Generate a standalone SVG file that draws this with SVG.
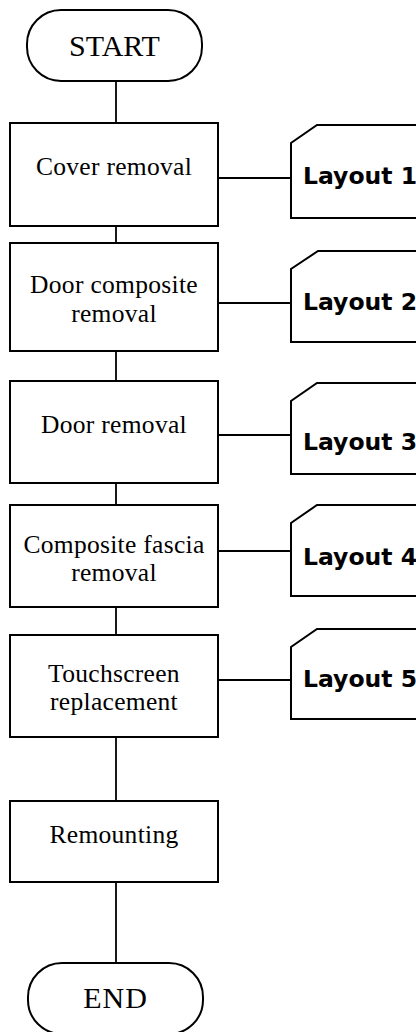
<svg xmlns="http://www.w3.org/2000/svg" width="416" height="1032" viewBox="0 0 416 1032">
<style>
.box{fill:#fff;stroke:#000;stroke-width:2}
.ln{stroke:#000;stroke-width:1.8;fill:none}
.t{font-family:"Liberation Serif",serif;font-size:25.5px;letter-spacing:0.3px;text-anchor:middle;fill:#000}
.tt{font-family:"Liberation Serif",serif;font-size:30px;text-anchor:middle;fill:#000}
.lay{font-family:"DejaVu Sans",sans-serif;font-weight:bold;font-size:23.5px;fill:#000}
</style>
<rect width="416" height="1032" fill="#fff"/>
<g id="connectors">
<line class="ln" x1="116" y1="81" x2="116" y2="123"/>
<line class="ln" x1="116" y1="226" x2="116" y2="243"/>
<line class="ln" x1="116" y1="351" x2="116" y2="381"/>
<line class="ln" x1="116" y1="483" x2="116" y2="505"/>
<line class="ln" x1="116" y1="607" x2="116" y2="635"/>
<line class="ln" x1="116" y1="737" x2="116" y2="801"/>
<line class="ln" x1="116" y1="882" x2="116" y2="963"/>
<line class="ln" x1="218" y1="178" x2="291" y2="178"/>
<line class="ln" x1="218" y1="303" x2="291" y2="303"/>
<line class="ln" x1="218" y1="435" x2="291" y2="435"/>
<line class="ln" x1="218" y1="551" x2="291" y2="551"/>
<line class="ln" x1="218" y1="680" x2="291" y2="680"/>
</g>
<g id="start"><rect class="box" x="27" y="10" width="175" height="71" rx="34"/><text class="tt" x="114.5" y="56">START</text></g>
<g id="n1"><rect class="box" x="10" y="123" width="208" height="103"/><text class="t" x="114" y="175">Cover removal</text></g>
<g id="n2"><rect class="box" x="10" y="243" width="208" height="108"/><text class="t" x="114" y="293">Door composite</text><text class="t" x="114" y="322">removal</text></g>
<g id="n3"><rect class="box" x="10" y="381" width="208" height="102"/><text class="t" x="114" y="433">Door removal</text></g>
<g id="n4"><rect class="box" x="10" y="505" width="208" height="102"/><text class="t" x="114" y="553">Composite fascia</text><text class="t" x="114" y="581">removal</text></g>
<g id="n5"><rect class="box" x="10" y="635" width="208" height="102"/><text class="t" x="114" y="682">Touchscreen</text><text class="t" x="114" y="710">replacement</text></g>
<g id="n6"><rect class="box" x="10" y="801" width="208" height="81"/><text class="t" x="114" y="843">Remounting</text></g>
<g id="end"><rect class="box" x="28" y="963" width="175" height="71" rx="34"/><text class="tt" x="115.5" y="1008" letter-spacing="1">END</text></g>
<g id="l1"><path class="box" d="M291,218 V143 L317,125 H430 V218 Z"/><text class="lay" x="303" y="184">Layout 1</text></g>
<g id="l2"><path class="box" d="M291,342 V269 L318,251 H430 V342 Z"/><text class="lay" x="303" y="310">Layout 2</text></g>
<g id="l3"><path class="box" d="M291,474 V401 L317,383 H430 V474 Z"/><text class="lay" x="303" y="450">Layout 3</text></g>
<g id="l4"><path class="box" d="M291,596 V523 L317,505 H430 V596 Z"/><text class="lay" x="303" y="565">Layout 4</text></g>
<g id="l5"><path class="box" d="M291,719 V647 L317,629 H430 V719 Z"/><text class="lay" x="303" y="687">Layout 5</text></g>
</svg>
